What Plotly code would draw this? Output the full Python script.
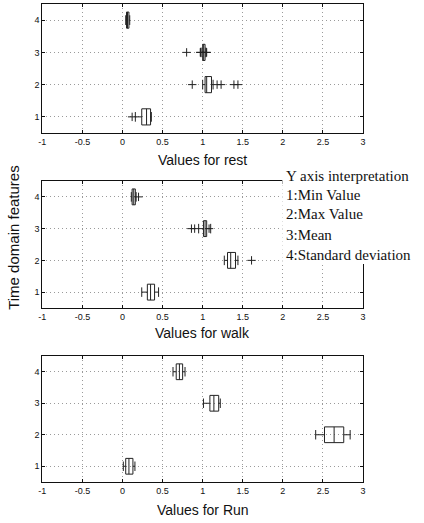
import plotly.graph_objects as go
from plotly.subplots import make_subplots

# ---------------- data ----------------
features = [1, 2, 3, 4]  # 1:Min, 2:Max, 3:Mean, 4:Std
x_tickvals = [-1, -0.5, 0, 0.5, 1, 1.5, 2, 2.5, 3]
x_ticktext = ["-1", "-0.5", "0", "0.5", "1", "1.5", "2", "2.5", "3"]
y_tickvals = [1, 2, 3, 4]

rest_lower = [0.16, 1.00, 0.98, 0.04]
rest_q1 = [0.24, 1.03, 1.00, 0.05]
rest_median = [0.30, 1.05, 1.01, 0.06]
rest_q3 = [0.35, 1.11, 1.03, 0.08]
rest_upper = [0.36, 1.13, 1.04, 0.09]
rest_out_x = [0.12, 0.87, 1.18, 1.23, 1.39, 1.44, 0.80, 0.97, 0.975, 1.045, 1.05]
rest_out_y = [1, 2, 2, 2, 2, 2, 3, 3, 3, 3, 3]

walk_lower = [0.24, 1.27, 0.95, 0.11]
walk_q1 = [0.31, 1.31, 1.01, 0.12]
walk_median = [0.35, 1.35, 1.03, 0.14]
walk_q3 = [0.40, 1.41, 1.05, 0.16]
walk_upper = [0.45, 1.44, 1.10, 0.17]
walk_out_x = [1.61, 0.86, 0.90, 1.08, 0.20]
walk_out_y = [2, 3, 3, 3, 4]

run_lower = [0.01, 2.41, 1.01, 0.63]
run_q1 = [0.04, 2.52, 1.09, 0.67]
run_median = [0.08, 2.64, 1.14, 0.71]
run_q3 = [0.13, 2.76, 1.20, 0.75]
run_upper = [0.155, 2.84, 1.22, 0.78]

panels = [
    ("Values for rest", rest_lower, rest_q1, rest_median, rest_q3, rest_upper, rest_out_x, rest_out_y),
    ("Values for walk", walk_lower, walk_q1, walk_median, walk_q3, walk_upper, walk_out_x, walk_out_y),
    ("Values for Run", run_lower, run_q1, run_median, run_q3, run_upper, [], []),
]

legend_lines = ["Y axis interpretation", "1:Min Value", "2:Max Value", "3:Mean", "4:Standard deviation"]

# ---------------- figure ----------------
W, H = 424, 523
fig = make_subplots(rows=3, cols=1)

x_dom = [39 / W, 365 / W]
y_doms = [(4, 133), (181, 308), (356, 482)]
title_y = [160, 333, 510]
INK = "#222222"

for i, (title, lo, q1, med, q3, up, ox, oy) in enumerate(panels):
    r = i + 1
    fig.add_trace(go.Box(
        y=features, q1=q1, median=med, q3=q3, lowerfence=lo, upperfence=up,
        orientation="h", width=0.5, boxpoints=False,
        line=dict(color=INK, width=1), fillcolor="rgba(0,0,0,0)",
        whiskerwidth=0.6, showlegend=False,
    ), row=r, col=1)
    if ox:
        fig.add_trace(go.Scatter(
            x=ox, y=oy, mode="markers", showlegend=False,
            marker=dict(symbol="cross-thin-open", size=6, color=INK, line=dict(color=INK, width=1)),
        ), row=r, col=1)
    top, bot = y_doms[i]
    ax = "xaxis" if r == 1 else f"xaxis{r}"
    ay = "yaxis" if r == 1 else f"yaxis{r}"
    common = dict(
        showgrid=True, gridcolor="#9a9a9a", griddash="1px,3px", gridwidth=1,
        showline=True, mirror="allticks", linecolor="#111111", linewidth=1,
        ticks="inside", ticklen=3, tickcolor="#111111", zeroline=False,
        tickfont=dict(family="Liberation Sans", size=9, color="#111111"),
    )
    fig.layout[ax].update(domain=x_dom, range=[-1, 3], tickvals=x_tickvals,
                          ticktext=x_ticktext, **common)
    fig.layout[ay].update(domain=[1 - bot / H, 1 - top / H], range=[0.5, 4.5],
                          tickvals=y_tickvals, **common)
    fig.add_annotation(
        text=title, xref="paper", yref="paper", x=202 / W, y=1 - title_y[i] / H,
        xanchor="center", yanchor="middle", showarrow=False,
        font=dict(family="Liberation Sans", size=14, color="#111111"),
    )

# Y axis title
fig.add_annotation(
    text="Time domain features", xref="paper", yref="paper", x=10 / W, y=1 - 237 / H,
    xanchor="center", yanchor="middle", showarrow=False, textangle=-90,
    font=dict(family="Liberation Sans", size=15, color="#111111"),
)

# white box behind the interpretation text
fig.add_shape(type="rect", xref="paper", yref="paper",
              x0=283 / W, x1=1, y0=1 - 264 / H, y1=1 - 166 / H,
              fillcolor="white", line=dict(width=0), layer="above")

legend_y = [176, 195, 214, 235, 255]
for txt, yy in zip(legend_lines, legend_y):
    fig.add_annotation(
        text=txt, xref="paper", yref="paper", x=285 / W, y=1 - yy / H,
        xanchor="left", yanchor="middle", showarrow=False,
        font=dict(family="Liberation Serif", size=15, color="#111111"),
    )

fig.update_layout(
    width=W, height=H, margin=dict(l=0, r=0, t=0, b=0),
    paper_bgcolor="white", plot_bgcolor="white",
)

fig.write_html("out.html", config={"displayModeBar": False},
               post_script="document.body.style.margin='0';document.body.style.overflow='hidden';")
